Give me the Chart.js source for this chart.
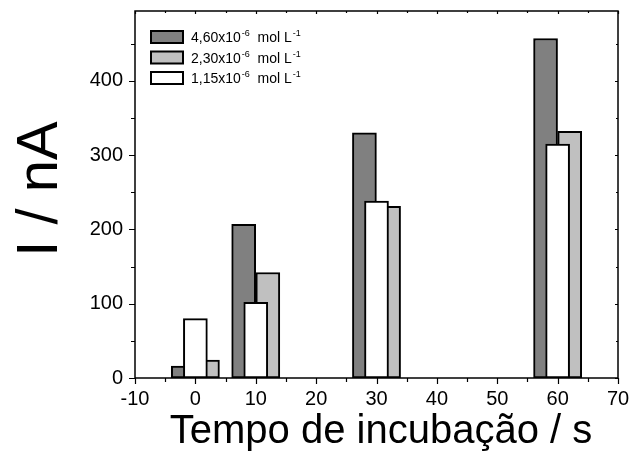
<!DOCTYPE html>
<html>
<head>
<meta charset="utf-8">
<script src="https://cdn.jsdelivr.net/npm/chart.js@4"></script>
<style>
  html, body { margin: 0; padding: 0; background: #fff; }
  #wrap { width: 631px; height: 451px; }
</style>
</head>
<body>
<div id="wrap"><canvas id="myChart" width="631" height="451"></canvas></div>
<script>
// tempo de incubação (s)
var tempos = [0, 10, 30, 60];
// corrente (nA) para cada concentração
var conc460 = [16, 207, 330, 457];
var conc230 = [24, 142, 231, 332];
var conc115 = [80, 102, 238, 315];
var legendas = [
  ['4,60x10', '-6', '  mol L', '-1'],
  ['2,30x10', '-6', '  mol L', '-1'],
  ['1,15x10', '-6', '  mol L', '-1']
];
var xTicks = [-10, 0, 10, 20, 30, 40, 50, 60, 70];
var yTicks = [0, 100, 200, 300, 400];

var cores = ['#808080', '#c0c0c0', '#ffffff'];
var desloc = [-2, 2, 0]; // posição das barras em torno de cada tempo

function pontos(vals, d) {
  return tempos.map((t, i) => ({ x: t + d, y: vals[i] }));
}

var FONT = "'Liberation Sans', Arial, sans-serif";

const framePlugin = {
  id: 'frame',
  afterDraw(chart) {
    const ctx = chart.ctx;
    const a = chart.chartArea;
    const xs = chart.scales.x, ys = chart.scales.y;
    ctx.save();
    ctx.strokeStyle = '#000';
    ctx.lineWidth = 1.5;
    ctx.strokeRect(a.left, a.top, a.right - a.left, a.bottom - a.top);
    ctx.lineWidth = 1.2;
    ctx.beginPath();
    for (let v = -10; v <= 70; v += 5) {
      const px = Math.round(xs.getPixelForValue(v)) + 0.5;
      const maj = v % 10 === 0;
      ctx.moveTo(px, a.bottom); ctx.lineTo(px, a.bottom + (maj ? 6 : 4));
      ctx.moveTo(px, a.top); ctx.lineTo(px, a.top + (maj ? 3 : 2));
    }
    for (let v = 0; v <= 450; v += 50) {
      const py = Math.round(ys.getPixelForValue(v)) + 0.5;
      const maj = v % 100 === 0;
      ctx.moveTo(a.left, py); ctx.lineTo(a.left - (maj ? 6 : 4), py);
      ctx.moveTo(a.right, py); ctx.lineTo(a.right - (maj ? 3 : 2), py);
    }
    ctx.stroke();

    // títulos dos eixos
    ctx.fillStyle = '#000';
    ctx.font = '40px ' + FONT;
    ctx.textAlign = 'center';
    ctx.textBaseline = 'alphabetic';
    ctx.fillText('Tempo de incubação / s', 381, 443);
    ctx.save();
    ctx.translate(57, 189);
    ctx.rotate(-Math.PI / 2);
    ctx.font = '58px ' + FONT;
    ctx.fillText('I / nA', 0, 0);
    ctx.restore();

    // legenda
    ctx.textAlign = 'left';
    ctx.lineWidth = 2;
    legendas.forEach((l, i) => {
      const cy = 37 + i * 20.5;
      ctx.fillStyle = cores[i];
      ctx.fillRect(151, cy - 6, 32, 12);
      ctx.strokeRect(151, cy - 6, 32, 12);
      ctx.fillStyle = '#000';
      let x = 191;
      ctx.font = '14px ' + FONT;
      ctx.fillText(l[0], x, cy + 5);
      x += ctx.measureText(l[0]).width + 1;
      ctx.font = '9px ' + FONT;
      ctx.fillText(l[1], x, cy - 1);
      x += ctx.measureText(l[1]).width;
      ctx.font = '14px ' + FONT;
      ctx.fillText(l[2], x, cy + 5);
      x += ctx.measureText(l[2]).width + 1;
      ctx.font = '9px ' + FONT;
      ctx.fillText(l[3], x, cy - 1);
    });
    ctx.restore();
  }
};

window.onload = function() {
  var ctx1 = document.getElementById('myChart').getContext('2d');
  Chart.defaults.font.family = FONT;
  Chart.defaults.font.size = 20;
  Chart.defaults.color = '#000';
  new Chart(ctx1, {
    type: 'bar',
    data: {
      datasets: [
        { label: legendas[0].join(''), data: pontos(conc460, desloc[0]), backgroundColor: cores[0], order: 2 },
        { label: legendas[1].join(''), data: pontos(conc230, desloc[1]), backgroundColor: cores[1], order: 1 },
        { label: legendas[2].join(''), data: pontos(conc115, desloc[2]), backgroundColor: cores[2], order: 0 }
      ]
    },
    options: {
      responsive: false,
      animation: false,
      layout: { padding: { top: 11, right: 13, left: 0, bottom: 0 } },
      datasets: {
        bar: { grouped: false, barThickness: 24, borderColor: '#000', borderWidth: 2, borderSkipped: false }
      },
      plugins: { legend: { display: false }, tooltip: { enabled: false } },
      scales: {
        x: {
          type: 'linear', min: -10, max: 70, offset: false,
          grid: { display: false, offset: false, drawTicks: false },
          border: { display: false },
          afterBuildTicks: s => { s.ticks = xTicks.map(v => ({ value: v })); },
          afterFit: s => { s.height = 73; s.paddingLeft = 0; s.paddingRight = 0; },
          ticks: { padding: 9, maxRotation: 0, autoSkip: false }
        },
        y: {
          min: 0, max: 494,
          grid: { display: false, drawTicks: false },
          border: { display: false },
          afterBuildTicks: s => { s.ticks = yTicks.map(v => ({ value: v })); },
          afterFit: s => { s.width = 135; s.paddingTop = 0; s.paddingBottom = 0; },
          ticks: { padding: 12 }
        }
      }
    },
    plugins: [framePlugin]
  });
};
</script>
</body>
</html>
